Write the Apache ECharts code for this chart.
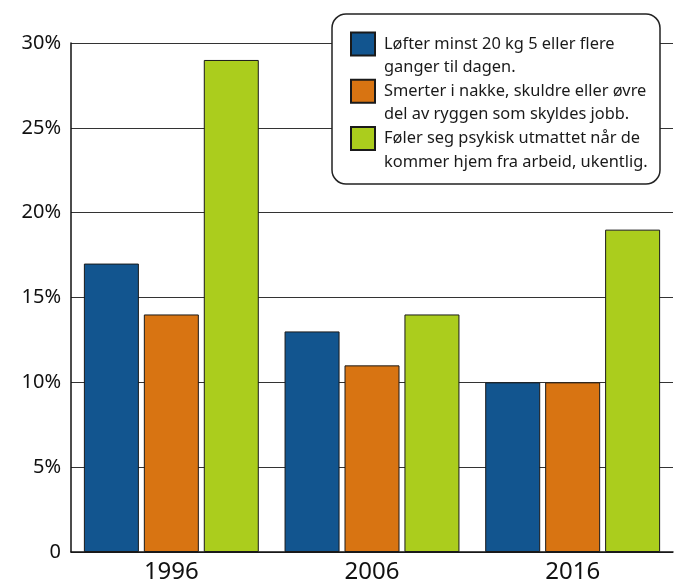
<!DOCTYPE html>
<html><head><meta charset="utf-8">
<script src="https://cdn.jsdelivr.net/npm/echarts@6/dist/echarts.min.js"></script>
<style>html,body{margin:0;padding:0;background:#fff}#c{width:675px;height:586px}</style>
</head><body><div id="c"></div>
<script>
const categories = ['1996', '2006', '2016'];
const seriesNames = [
  'Løfter minst 20 kg 5 eller flere\nganger til dagen.',
  'Smerter i nakke, skuldre eller øvre\ndel av ryggen som skyldes jobb.',
  'Føler seg psykisk utmattet når de\nkommer hjem fra arbeid, ukentlig.'
];
const liftValues = [17, 13, 10];
const painValues = [14, 11, 10];
const tiredValues = [29, 14, 19];
const yTicks = [0, 5, 10, 15, 20, 25, 30];
const colors = ['#12558f', '#d87412', '#abcd1d'];
const FONT = 'Noto Sans';

const chart = echarts.init(document.getElementById('c'), null, {renderer: 'canvas'});
const dataSets = [liftValues, painValues, tiredValues];
chart.setOption({
  animation: false,
  textStyle: {fontFamily: FONT},
  grid: {left: 71, right: 2, top: 43, bottom: 34},
  graphic: [{
    type: 'rect', z: 3,
    shape: {x: 332, y: 14, width: 328, height: 170, r: 14},
    style: {fill: '#fff', stroke: '#222', lineWidth: 1.5}
  }],
  legend: {
    orient: 'vertical', left: 350, top: 9, padding: 0, itemGap: -23,
    itemWidth: 24, itemHeight: 23, z: 5,
    icon: 'rect',
    formatter: name => '\n' + name,
    textStyle: {fontFamily: FONT, fontSize: 16.4, color: '#1a1a1a', lineHeight: 23.4, padding: [0, 0, 0, 4]},
    data: seriesNames
  },
  xAxis: {
    type: 'category', data: categories,
    axisLine: {lineStyle: {color: '#111', width: 1.5}},
    axisTick: {inside: true, length: 12, lineStyle: {color: '#111', width: 1.5}},
    axisLabel: {fontSize: 24, color: '#111', margin: 8, fontFamily: FONT}
  },
  yAxis: {
    type: 'value', min: 0, max: 30, interval: 5,
    axisLine: {show: true, lineStyle: {color: '#111', width: 1.5}},
    axisTick: {show: false},
    splitLine: {lineStyle: {color: '#333', width: 1}},
    axisLabel: {fontSize: 20, color: '#111', margin: 10, fontFamily: FONT,
      formatter: v => yTicks.includes(v) ? (v === 0 ? '0' : v + '%') : ''}
  },
  series: dataSets.map((d, i) => ({
    type: 'bar', name: seriesNames[i], data: d,
    barWidth: 55, barGap: '9%',
    itemStyle: {color: colors[i], borderColor: '#1a1a1a', borderWidth: 1}
  }))
});
</script></body></html>
